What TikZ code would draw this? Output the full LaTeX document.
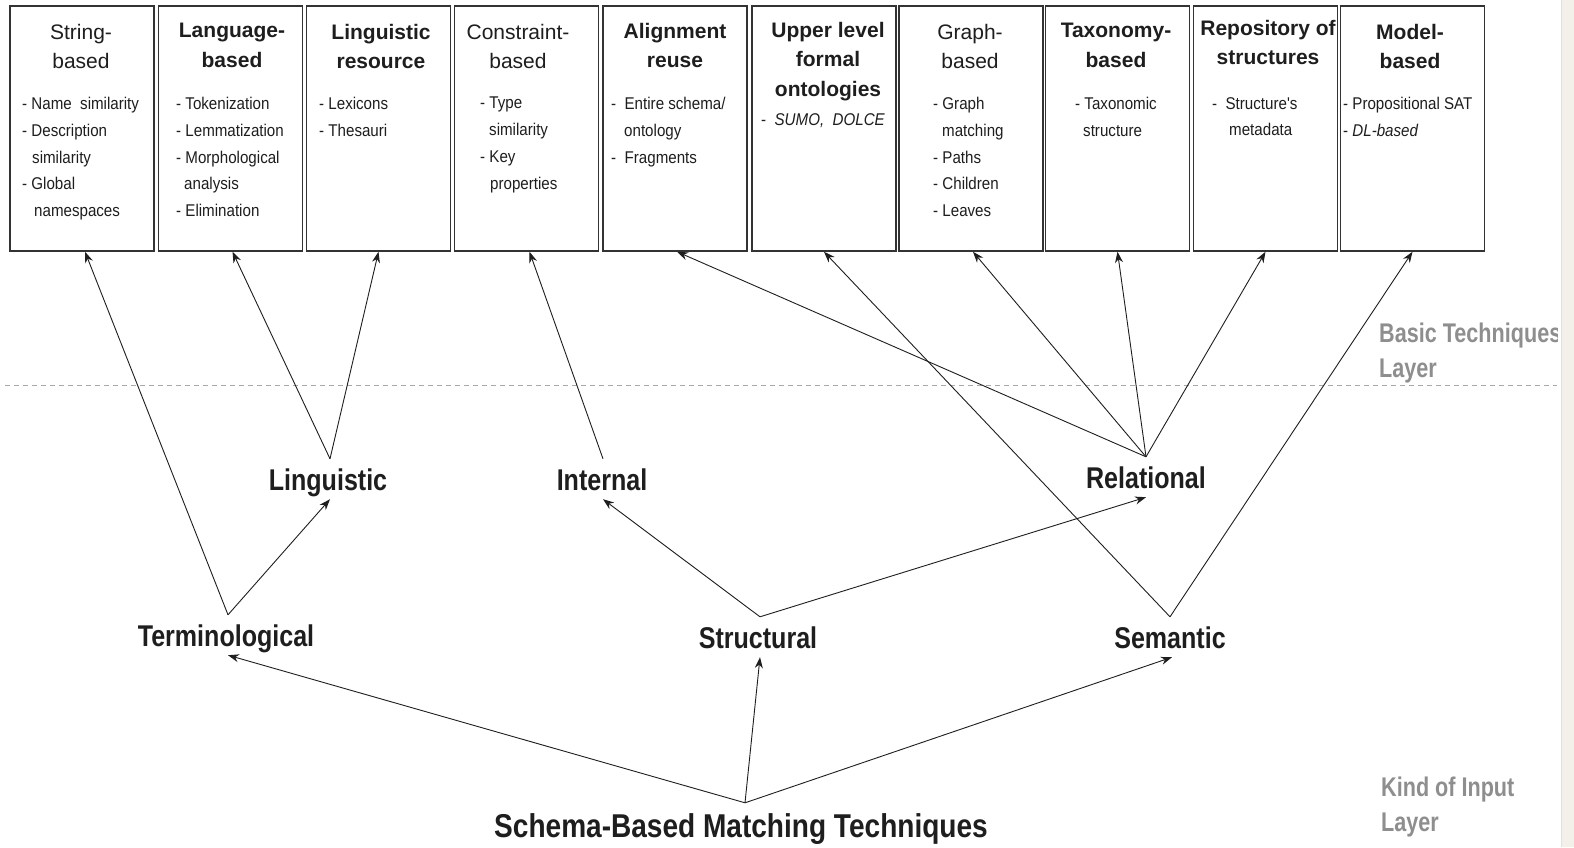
\documentclass[tikz,border=0pt]{standalone}
\usepackage{fontspec}
\setmainfont{Liberation Sans}
\newfontfamily\itemfont[FakeStretch=0.89]{Liberation Sans}
\newfontfamily\labfont[FakeStretch=0.835]{Liberation Sans}
\newfontfamily\biglabfont[FakeStretch=0.85]{Liberation Sans}
\newfontfamily\layerfont[FakeStretch=0.8]{Liberation Sans}
\usetikzlibrary{arrows.meta}
\definecolor{ink}{HTML}{1E1E1E}
\definecolor{boxline}{HTML}{333333}
\definecolor{layergray}{HTML}{8E8E8E}
\definecolor{dashgray}{HTML}{A8A8A8}
\definecolor{stripcol}{HTML}{F3EFE9}
\tikzset{
  box/.style={draw=boxline, line width=1.5pt, fill=white, minimum width=144pt, minimum height=245pt, inner sep=0pt},
  ttl/.style={anchor=north, inner sep=0pt, align=center, text=ink, font=\fontsize{21}{29.5}\selectfont},
  ttlb/.style={ttl, font=\bfseries\fontsize{21}{29.5}\selectfont},
  itm/.style={anchor=north west, inner sep=0pt, align=left, text=ink, font=\itemfont\fontsize{17}{26.8}\selectfont},
  lab/.style={inner sep=0pt, minimum height=40pt, text height=22pt, text depth=0pt, text=ink, font=\labfont\bfseries\fontsize{30}{30}\selectfont},
  biglab/.style={inner sep=0pt, minimum height=44pt, text height=24pt, text depth=0pt, text=ink, font=\biglabfont\bfseries\fontsize{33}{33}\selectfont},
  layer/.style={anchor=north west, inner sep=0pt, align=left, text=layergray, font=\layerfont\bfseries\fontsize{27}{34.5}\selectfont},
  arr/.style={draw=ink, line width=0.9pt, -{Stealth[length=11pt,width=8pt]}},
}
\begin{document}
\begin{tikzpicture}[x=1pt,y=-1pt]
\useasboundingbox (0,0) rectangle (1574,847);
\fill[white] (0,0) rectangle (1574,847);
% right edge strip
\fill[stripcol] (1561,0) rectangle (1574,847);
\draw[draw=black!12, line width=0.8pt] (1561,0) -- (1561,847);
% layer separator
\draw[dashgray, line width=1pt, dash pattern=on 5pt off 4pt] (5,385) -- (1557,385);

% boxes
\node[box] (b1)  at (82,128.5) {};
\node[box] (b2)  at (230.5,128.5) {};
\node[box] (b3)  at (378.5,128.5) {};
\node[box] (b4)  at (526.5,128.5) {};
\node[box] (b5)  at (675,128.5) {};
\node[box] (b6)  at (824,128.5) {};
\node[box] (b7)  at (971,128.5) {};
\node[box] (b8)  at (1117.5,128.5) {};
\node[box] (b9)  at (1265.5,128.5) {};
\node[box] (b10) at (1412.5,128.5) {};

% titles
\node[ttl]  (t1)  at (81,24)    {String-\\based};
\node[ttlb] (t2)  at (232,23)   {Language-\\based};
\node[ttlb] (t3)  at (381,24)   {Linguistic\\resource};
\node[ttl]  (t4)  at (518,24)   {Constraint-\\based};
\node[ttlb] (t5)  at (675,23)   {Alignment\\reuse};
\node[ttlb] (t6)  at (828,22)   {Upper level\\formal\\ontologies};
\node[ttl]  (t7)  at (970,24)   {Graph-\\based};
\node[ttlb] (t8)  at (1116,23)  {Taxonomy-\\based};
\node[ttlb] (t9)  at (1268,20)  {Repository of\\structures};
\node[ttlb] (t10) at (1410,24)  {Model-\\based};

% items
\node[itm] (i1) at (22,97)   {- Name\ \ similarity\\- Description\\\hspace*{10pt}similarity\\- Global\\\hspace*{12pt}namespaces};
\node[itm] (i2) at (176,97)  {- Tokenization\\- Lemmatization\\- Morphological\\\hspace*{8pt}analysis\\- Elimination};
\node[itm] (i3) at (319,97)  {- Lexicons\\- Thesauri};
\node[itm] (i4) at (480,97)  {- Type\\\hspace*{9pt}similarity\\- Key\\\hspace*{10pt}properties};
\node[itm] (i5) at (611,97)  {-\ \ Entire schema/\\\hspace*{13pt}ontology\\-\ \ Fragments};
\node[itm] (i6) at (761,113) {-\ \ \textit{SUMO,\ \ DOLCE}};
\node[itm] (i7) at (933,97)  {- Graph\\\hspace*{9pt}matching\\- Paths\\- Children\\- Leaves};
\node[itm] (i8) at (1075,97) {- Taxonomic\\\hspace*{8pt}structure};
\node[itm] (i9) at (1212,97) {-\ \ Structure's\\\hspace*{17pt}metadata};
\node[itm] (i10) at (1343,97) {- Propositional SAT\\- \textit{DL-based}};

% layer labels
\begin{scope}
\clip (1300,300) rectangle (1557,400);
\node[layer] (lay1) at (1379,323) {Basic Techniques\\Layer};
\end{scope}
\node[layer] (lay2) at (1381,777) {Kind of Input\\Layer};

% middle labels
\node[lab] (ling)  at (328,479)  {Linguistic};
\node[lab] (intl)  at (602,479)  {Internal};
\node[lab] (rel)   at (1146,477) {Relational};
\node[lab] (term)  at (226,635)  {Terminological};
\node[lab] (struc) at (758,637)  {Structural};
\node[lab] (sem)   at (1170,637) {Semantic};
\node[biglab] (schema) at (741,825) {Schema-Based Matching Techniques};

% connectors
\draw[arr] ([xshift=2pt]term.north) -- ([xshift=3pt]b1.south);
\draw[arr] ([xshift=2pt]term.north) -- ([xshift=2pt]ling.south);
\draw[arr] ([xshift=2pt]ling.north) -- ([xshift=2pt]b2.south);
\draw[arr] ([xshift=2pt]ling.north) -- (b3.south);
\draw[arr] ([xshift=1pt]intl.north) -- ([xshift=3pt]b4.south);
\draw[arr] ([xshift=2pt]struc.north) -- ([xshift=1pt]intl.south);
\draw[arr] ([xshift=2pt]struc.north) -- (rel.south);
\draw[arr] (rel.north) -- ([xshift=2pt]b5.south);
\draw[arr] (rel.north) -- ([xshift=2pt]b7.south);
\draw[arr] (rel.north) -- (b8.south);
\draw[arr] (rel.north) -- (b9.south);
\draw[arr] (sem.north) -- (b6.south);
\draw[arr] (sem.north) -- (b10.south);
\draw[arr] ([xshift=4pt]schema.north) -- ([xshift=2pt]term.south);
\draw[arr] ([xshift=4pt]schema.north) -- ([xshift=2pt]struc.south);
\draw[arr] ([xshift=4pt]schema.north) -- ([xshift=2pt]sem.south);
\end{tikzpicture}
\end{document}
